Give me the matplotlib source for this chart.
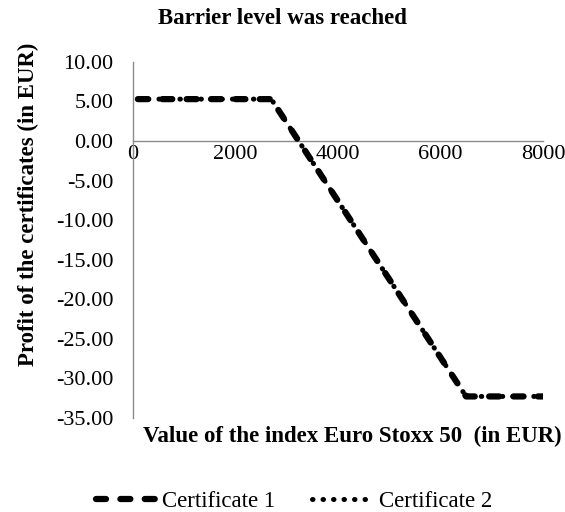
import numpy as np
import matplotlib.pyplot as plt

plt.rcParams['font.family'] = ['Liberation Serif', 'DejaVu Serif']

# index value (EUR) and profit of the certificates (EUR)
index_value = [100, 2700, 6500, 8000]
cert1 = [5.3, 5.3, -32.3, -32.3]
cert2 = [5.3, 5.3, -32.3, -32.3]

x_ticks = [0, 2000, 4000, 6000, 8000]
y_ticks = [10, 5, 0, -5, -10, -15, -20, -25, -30, -35]

fig = plt.figure(figsize=(5.65, 5.12), dpi=100)
ax = fig.add_axes([0.235, 0.184, 0.726, 0.695])

ax.plot(index_value, cert1, color='black', lw=4.5, linestyle=(0, (1.6, 2.3)),
        dash_capstyle='round', label='Certificate 1', zorder=3)
ax.plot(index_value, cert2, color='black', lw=3.6, linestyle=(0, (0.1, 2.0)),
        dash_capstyle='round', label='Certificate 2', zorder=2)

ax.set_xlim(0, 8000)
ax.set_ylim(-35, 10)
ax.set_xticks(x_ticks)
ax.set_yticks(y_ticks)
ax.set_yticklabels(['%.2f' % v for v in y_ticks])

ax.spines['top'].set_visible(False)
ax.spines['right'].set_visible(False)
ax.spines['bottom'].set_position(('data', 0))
for s in ['left', 'bottom']:
    ax.spines[s].set_color('#8c8c8c')
    ax.spines[s].set_linewidth(1)
ax.tick_params(axis='both', length=0, labelsize=16)
ax.tick_params(axis='y', pad=14)
ax.tick_params(axis='x', pad=3)

fig.text(0.5, 0.963, 'Barrier level was reached', ha='center', va='center',
         fontsize=16.5, fontweight='bold')
fig.text(0.05, 0.6, 'Profit of the certificates (in EUR)', ha='center', va='center',
         rotation=90, fontsize=16.5, fontweight='bold')
fig.text(0.623, 0.147, 'Value of the index Euro Stoxx 50  (in EUR)', ha='center',
         va='center', fontsize=16.5, fontweight='bold')

leg = fig.legend(loc='center', bbox_to_anchor=(0.52, 0.02), ncol=2, frameon=False,
                 fontsize=16.5, handlelength=2.6, columnspacing=1.6, handletextpad=0.3)

fig.savefig('out.png', dpi=100)
